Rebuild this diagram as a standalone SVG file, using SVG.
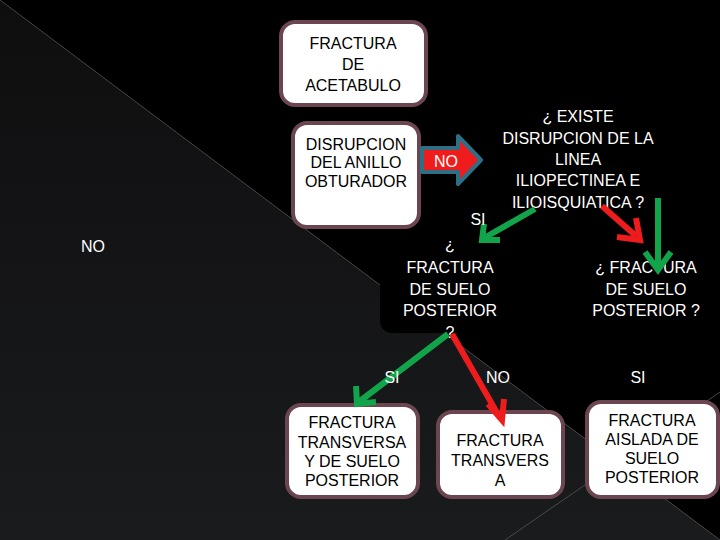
<svg xmlns="http://www.w3.org/2000/svg" width="720" height="540" viewBox="0 0 720 540">
<style>
.box{fill:#fff;stroke:#6b4650;stroke-width:4}
.t{font-family:"Liberation Sans",Arial,sans-serif;font-size:16px;text-anchor:middle}
.w{fill:#fff}.k{fill:#000}
.g{stroke:#12a44a;stroke-width:6;fill:none}
.r{stroke:#ee1c1c;stroke-width:6;fill:none}
</style>
<defs>
<linearGradient id="bg" x1="0" y1="0" x2="0" y2="1"><stop offset="0" stop-color="#0e0e0f"/><stop offset="1" stop-color="#1a1b1d"/></linearGradient>
</defs>
<rect width="720" height="540" fill="url(#bg)"/>
<polygon points="0,0 720,0 720,540" fill="#000"/>
<line x1="0" y1="0" x2="720" y2="540" stroke="#555" stroke-width="0.8"/>
<line x1="505" y1="540" x2="720" y2="392" stroke="#555" stroke-width="0.8"/>
<rect x="380" y="215" width="140" height="118" rx="12" fill="#000"/>
<g id="n1"><rect class="box" x="281" y="22" width="145" height="83" rx="14"/>
<text class="t k"><tspan x="353" y="49">FRACTURA</tspan><tspan x="353" y="70">DE</tspan><tspan x="353" y="91">ACETABULO</tspan></text></g>
<g id="n2"><rect class="box" x="293" y="123" width="126" height="104" rx="14"/>
<text class="t k" font-size="15"><tspan x="356" y="150">DISRUPCION</tspan><tspan x="356" y="168">DEL ANILLO</tspan><tspan x="356" y="187">OBTURADOR</tspan></text></g>
<g id="n3"><text class="t w"><tspan x="578" y="122">¿ EXISTE</tspan><tspan x="578" y="144">DISRUPCION DE LA</tspan><tspan x="578" y="165">LINEA</tspan><tspan x="578" y="186">ILIOPECTINEA E</tspan><tspan x="578" y="208">ILIOISQUIATICA ?</tspan></text></g>
<g id="n4"><text class="t w"><tspan x="450" y="250">¿</tspan><tspan x="450" y="273">FRACTURA</tspan><tspan x="450" y="295">DE SUELO</tspan><tspan x="450" y="316">POSTERIOR</tspan><tspan x="450" y="338">?</tspan></text></g>
<g id="n5"><text class="t w"><tspan x="646" y="273">¿  FRACTURA</tspan><tspan x="646" y="295">DE SUELO</tspan><tspan x="646" y="316">POSTERIOR ?</tspan></text></g>
<g id="n6"><rect class="box" x="287" y="405" width="131" height="92" rx="14"/>
<text class="t k" font-size="15"><tspan x="352" y="428">FRACTURA</tspan><tspan x="352" y="448">TRANSVERSA</tspan><tspan x="352" y="467">Y DE SUELO</tspan><tspan x="352" y="486">POSTERIOR</tspan></text></g>
<g id="n7"><rect class="box" x="438" y="412" width="125" height="85" rx="14"/>
<text class="t k" font-size="15"><tspan x="500" y="446">FRACTURA</tspan><tspan x="500" y="466">TRANSVERS</tspan><tspan x="500" y="486">A</tspan></text></g>
<g id="n8"><rect class="box" x="587" y="402" width="131" height="95" rx="14"/>
<text class="t k" font-size="15"><tspan x="652" y="426">FRACTURA</tspan><tspan x="652" y="445">AISLADA DE</tspan><tspan x="652" y="464">SUELO</tspan><tspan x="652" y="483">POSTERIOR</tspan></text></g>
<g id="connectors">
<polygon points="422,148 458,148 458,136 481,160 458,184 458,172 422,172" fill="#ee1c1c" stroke="#2e6f86" stroke-width="4" stroke-linejoin="round"/>
<text class="t w" x="446" y="167">NO</text>
<path class="g" d="M535,209 L484,238 M484,224 L482,240 L500,240"/>
<path class="r" d="M602,206 L636,236 M617,237 L640,240 L636,218"/>
<path class="g" d="M658,198 L658,268 M645,252 L658,270 L671,252"/>
<path class="g" d="M448,334 L360,401 M356,386 L357,404 L376,402"/>
<path class="r" d="M452,334 L500,418 M488,404 L502,420 L504,399"/>
</g>
<g class="t w" font-size="17">
<text x="93" y="252">NO</text>
<text x="478" y="225">SI</text>
<text x="392" y="383">SI</text>
<text x="498" y="383">NO</text>
<text x="638" y="383">SI</text>
</g>
</svg>
